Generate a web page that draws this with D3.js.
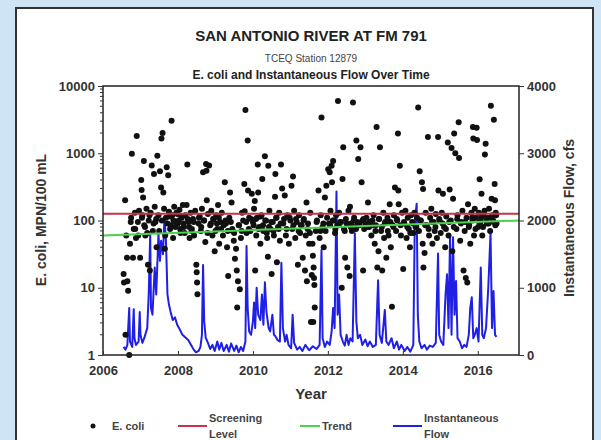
<!DOCTYPE html>
<html>
<head>
<meta charset="utf-8">
<script src="https://cdn.jsdelivr.net/npm/d3@7"></script>
<style>
  body { margin: 0; background: #cfe4f5; }
  svg { display: block; font-family: "Liberation Sans", Arial, sans-serif; }
</style>
</head>
<body>
<div id="chart"></div>
<script>

var width = 601,
    height = 440

// E. coli samples: [decimal year, MPN/100 mL]
var ecoli = [
  [2006.55,16],[2006.56,12],[2006.59,200],[2006.6,2],[2006.62,60],[2006.64,28],[2006.65,12.5],[2006.67,9],[2006.7,1],[2006.72,45],
  [2006.75,110],[2006.77,980],[2006.8,28],[2006.82,75],[2006.85,130],[2006.88,55],[2006.9,1800],[2006.93,95],[2006.96,140],[2006.99,28],
  [2007.02,400],[2007.03,283],[2007.05,120],[2007.07,220],[2007.09,770],[2007.1,85],[2007.13,60],[2007.16,150],[2007.2,22],[2007.22,100],
  [2007.25,18],[2007.27,130],[2007.3,660],[2007.33,70],[2007.36,490],[2007.38,160],[2007.4,95],[2007.43,40],[2007.45,920],[2007.48,120],
  [2007.52,540],[2007.55,310],[2007.56,1650],[2007.59,2000],[2007.61,260],[2007.63,150],[2007.65,38],[2007.68,110],[2007.7,620],[2007.72,90],
  [2007.74,470],[2007.76,135],[2007.79,75],[2007.83,3050],[2007.85,120],[2007.88,100],[2007.9,160],[2007.93,80],[2007.96,130],
  [2008.0,90],[2008.04,145],[2008.07,65],[2008.1,110],[2008.13,170],[2008.16,80],[2008.2,120],[2008.23,170],[2008.25,680],[2008.28,95],
  [2008.31,55],[2008.34,130],[2008.37,75],[2008.4,105],[2008.43,60],[2008.46,140],[2008.49,22],[2008.5,17],[2008.51,12],[2008.52,8],
  [2008.55,90],[2008.58,115],[2008.61,70],[2008.64,150],[2008.67,520],[2008.7,100],[2008.73,48],[2008.75,690],[2008.76,550],[2008.77,200],
  [2008.8,125],[2008.83,660],[2008.86,85],[2008.89,140],[2008.92,60],[2008.95,105],[2008.98,35],
  [2009.02,120],[2009.05,75],[2009.07,170],[2009.1,45],[2009.13,95],[2009.17,130],[2009.2,60],[2009.25,370],[2009.28,90],[2009.31,40],
  [2009.34,15],[2009.37,110],[2009.39,260],[2009.43,185],[2009.46,70],[2009.49,50],[2009.52,27],[2009.55,38],[2009.57,18],[2009.58,5.1],
  [2009.6,12.5],[2009.63,85],[2009.65,9.5],[2009.68,55],[2009.71,130],[2009.74,100],[2009.77,350],[2009.78,137],[2009.8,4400],[2009.83,65],
  [2009.86,1550],[2009.87,280],[2009.9,110],[2009.93,70],[2009.97,250],
  [2010.0,95],[2010.03,150],[2010.05,195],[2010.06,18],[2010.09,60],[2010.11,110],[2010.13,680],[2010.14,260],[2010.17,80],[2010.2,45],
  [2010.23,120],[2010.25,415],[2010.28,70],[2010.32,900],[2010.35,100],[2010.38,55],[2010.4,29],[2010.41,650],[2010.44,140],[2010.47,75],
  [2010.5,16],[2010.53,95],[2010.56,60],[2010.59,225],[2010.6,490],[2010.63,110],[2010.64,24],[2010.67,80],[2010.7,130],[2010.72,50],
  [2010.75,680],[2010.78,300],[2010.81,90],[2010.85,235],[2010.88,60],[2010.92,120],[2010.96,45],
  [2011.0,100],[2011.03,330],[2011.05,75],[2011.07,450],[2011.1,140],[2011.13,55],[2011.17,95],[2011.2,22],[2011.23,120],[2011.26,65],
  [2011.3,85],[2011.33,28],[2011.36,105],[2011.39,18],[2011.41,60],[2011.43,185],[2011.44,12.5],[2011.47,90],[2011.5,45],[2011.53,130],
  [2011.55,3.1],[2011.57,15.5],[2011.59,45],[2011.6,30],[2011.61,3.1],[2011.62,20],[2011.63,14],[2011.64,11],[2011.65,5.1],[2011.68,70],
  [2011.71,100],[2011.75,280],[2011.78,55],[2011.81,120],[2011.83,3400],[2011.86,80],[2011.89,40],[2011.92,220],[2011.96,330],[2011.98,110],
  [2012.01,580],[2012.03,90],[2012.05,520],[2012.07,140],[2012.1,650],[2012.11,370],[2012.14,770],[2012.16,100],[2012.19,65],[2012.22,120],
  [2012.25,85],[2012.27,6000],[2012.3,130],[2012.33,95],[2012.37,10],[2012.39,415],[2012.41,1230],[2012.43,75],[2012.46,28],[2012.48,105],
  [2012.52,20],[2012.55,140],[2012.58,15],[2012.59,160],[2012.62,90],[2012.64,70],[2012.67,5700],[2012.7,110],[2012.73,80],[2012.76,1550],
  [2012.78,95],[2012.81,820],[2012.84,85],[2012.87,1230],[2012.9,370],[2012.92,100],[2012.94,18],[2012.97,75],
  [2013.0,90],[2013.03,110],[2013.07,185],[2013.1,80],[2013.13,95],[2013.16,60],[2013.19,100],[2013.22,120],[2013.25,45],[2013.28,85],
  [2013.3,2450],[2013.32,20],[2013.35,35],[2013.37,105],[2013.39,1230],[2013.42,70],[2013.45,18],[2013.48,130],[2013.5,55],[2013.53,95],
  [2013.56,28],[2013.59,110],[2013.62,60],[2013.65,175],[2013.68,40],[2013.71,5.2],[2013.73,85],[2013.76,120],[2013.79,310],[2013.82,70],
  [2013.85,100],[2013.87,1960],[2013.88,280],[2013.89,175],[2013.92,650],[2013.95,60],[2013.98,130],
  [2014.01,19],[2014.04,90],[2014.07,140],[2014.1,55],[2014.13,110],[2014.16,75],[2014.19,40],[2014.22,120],[2014.25,95],[2014.28,65],
  [2014.31,130],[2014.34,80],[2014.38,110],[2014.41,4800],[2014.43,70],[2014.45,540],[2014.48,100],[2014.51,370],[2014.53,45],[2014.54,295],
  [2014.55,20],[2014.58,33],[2014.61,130],[2014.64,85],[2014.67,1750],[2014.7,60],[2014.73,110],[2014.76,150],[2014.79,45],[2014.82,95],
  [2014.85,70],[2014.88,125],[2014.91,55],[2014.94,1750],[2014.95,280],[2014.98,100],
  [2015.01,65],[2015.04,130],[2015.07,250],[2015.1,80],[2015.13,40],[2015.16,115],[2015.2,1450],[2015.22,60],[2015.25,290],[2015.28,100],
  [2015.3,1200],[2015.32,35],[2015.34,210],[2015.37,1960],[2015.4,1000],[2015.43,75],[2015.46,120],[2015.49,2900],[2015.5,850],[2015.53,50],
  [2015.56,95],[2015.59,140],[2015.62,18],[2015.65,70],[2015.68,14],[2015.7,110],[2015.72,12],[2015.74,175],[2015.77,85],[2015.8,45],
  [2015.83,130],[2015.86,100],[2015.87,2450],[2015.88,1650],[2015.9,60],[2015.92,150],[2015.95,110],[2015.97,2400],[2015.98,1570],
  [2016.01,80],[2016.03,130],[2016.05,410],[2016.07,95],[2016.1,250],[2016.12,60],[2016.15,120],[2016.18,140],[2016.19,960],[2016.21,1380],
  [2016.24,90],[2016.27,110],[2016.3,150],[2016.33,70],[2016.35,5100],[2016.37,210],[2016.39,120],[2016.41,100],[2016.43,3150],[2016.45,350],
  [2016.46,200],[2016.48,130],[2016.5,90],
  // the dense band between trend and screening level
  [2006.74,95],[2006.86,75],[2006.94,60],[2007.04,110],[2007.12,80],[2007.18,65],[2007.24,120],[2007.35,90],[2007.42,105],[2007.5,70],
  [2007.57,100],[2007.66,60],[2007.78,115],[2007.81,85],[2007.87,55],[2007.94,95],[2007.99,125],
  [2008.02,100],[2008.06,75],[2008.09,115],[2008.15,90],[2008.18,65],[2008.26,105],[2008.3,80],[2008.36,70],[2008.42,95],[2008.56,110],
  [2008.62,80],[2008.69,100],[2008.79,65],[2008.88,90],[2008.94,105],
  [2009.0,70],[2009.04,90],[2009.09,110],[2009.15,75],[2009.22,85],[2009.27,100],[2009.33,70],[2009.41,95],[2009.45,75],[2009.5,65],
  [2009.62,85],[2009.7,70],[2009.82,95],[2009.89,75],[2009.95,105],
  [2010.02,85],[2010.08,105],[2010.15,75],[2010.21,115],[2010.27,85],[2010.33,100],[2010.37,65],[2010.43,80],[2010.49,95],[2010.55,70],
  [2010.62,110],[2010.69,75],[2010.74,90],[2010.83,105],[2010.9,75],[2010.98,110],
  [2011.08,85],[2011.15,105],[2011.22,70],[2011.28,85],[2011.35,100],[2011.46,75],[2011.52,65],[2011.7,95],[2011.8,70],[2011.88,90],
  [2011.94,70],
  [2012.06,85],[2012.13,100],[2012.2,75],[2012.29,85],[2012.35,95],[2012.45,70],[2012.5,90],[2012.61,80],[2012.69,100],[2012.75,75],
  [2012.83,90],[2012.95,105],
  [2013.05,80],[2013.12,95],[2013.2,85],[2013.27,70],[2013.36,105],[2013.44,80],[2013.52,90],[2013.6,70],[2013.67,95],[2013.75,80],
  [2013.84,105],[2013.94,85],
  [2014.03,95],[2014.12,80],[2014.2,65],[2014.27,90],[2014.36,80],[2014.47,100],[2014.6,85],[2014.69,75],[2014.78,95],[2014.87,80],
  [2014.97,105],
  [2015.06,90],[2015.15,75],[2015.24,95],[2015.36,80],[2015.45,105],[2015.55,90],[2015.66,95],[2015.76,80],[2015.85,110],[2015.94,75],
  [2016.04,95],[2016.09,110],[2016.14,80],[2016.23,100],[2016.29,90],[2016.36,110],[2016.42,95],[2016.47,85],[2016.49,120]
]

// instantaneous flow: [decimal year, cfs]
var flow = [
  [2006.55,120],[2006.6,80],[2006.65,150],[2006.7,700],[2006.72,200],[2006.78,120],[2006.82,680],[2006.84,250],[2006.88,150],[2006.95,200],
  [2006.98,640],[2007.0,300],[2007.05,180],[2007.1,250],[2007.18,400],[2007.22,900],[2007.26,1800],[2007.28,700],[2007.32,600],[2007.38,1300],
  [2007.42,900],[2007.48,1800],[2007.52,1400],[2007.55,1700],[2007.6,1500],[2007.64,2050],[2007.68,1700],[2007.72,900],[2007.76,750],[2007.8,650],
  [2007.86,520],[2007.92,560],[2007.98,450],[2008.05,380],[2008.12,300],[2008.2,260],[2008.28,220],[2008.35,150],[2008.42,80],[2008.48,40],
  [2008.55,60],[2008.6,120],[2008.64,300],[2008.67,1340],[2008.7,500],[2008.74,260],[2008.8,180],[2008.86,90],[2008.92,150],[2008.98,60],
  [2009.05,200],[2009.1,80],[2009.16,180],[2009.22,60],[2009.3,150],[2009.36,50],[2009.42,170],[2009.5,60],[2009.56,140],[2009.62,40],
  [2009.68,120],[2009.74,60],[2009.8,200],[2009.83,1620],[2009.86,700],[2009.9,350],[2009.95,300],[2010.0,500],[2010.03,780],[2010.06,400],
  [2010.1,1000],[2010.14,600],[2010.2,520],[2010.24,900],[2010.28,450],[2010.32,1080],[2010.36,650],[2010.42,400],[2010.46,350],[2010.52,600],
  [2010.56,300],[2010.6,280],[2010.66,220],[2010.72,200],[2010.76,1370],[2010.8,400],[2010.86,200],[2010.9,300],[2010.95,150],[2011.02,100],
  [2011.06,600],[2011.1,180],[2011.18,80],[2011.25,120],[2011.32,60],[2011.4,150],[2011.5,70],[2011.6,130],[2011.7,90],[2011.78,150],
  [2011.83,1560],[2011.86,250],[2011.92,120],[2011.98,200],[2012.05,150],[2012.1,350],[2012.14,700],[2012.18,400],[2012.23,2430],[2012.26,600],
  [2012.3,900],[2012.34,300],[2012.4,200],[2012.45,140],[2012.5,300],[2012.55,150],[2012.6,250],[2012.66,200],[2012.72,1810],[2012.76,500],
  [2012.8,250],[2012.86,300],[2012.92,150],[2013.0,230],[2013.06,130],[2013.12,200],[2013.2,120],[2013.28,150],[2013.34,1110],[2013.38,300],
  [2013.44,180],[2013.52,670],[2013.56,200],[2013.62,150],[2013.7,250],[2013.76,100],[2013.84,200],[2013.9,80],[2013.96,150],[2014.05,60],
  [2014.12,120],[2014.2,50],[2014.28,150],[2014.32,2000],[2014.37,2250],[2014.4,600],[2014.44,200],[2014.5,100],[2014.58,150],[2014.64,80],
  [2014.72,140],[2014.8,120],[2014.88,180],[2014.94,1510],[2014.97,300],[2015.02,200],[2015.08,150],[2015.14,900],[2015.18,1200],[2015.22,400],
  [2015.26,1760],[2015.3,300],[2015.34,1750],[2015.38,600],[2015.42,1100],[2015.46,250],[2015.52,200],[2015.58,100],[2015.64,150],[2015.7,120],
  [2015.76,300],[2015.8,700],[2015.84,860],[2015.88,250],[2015.92,300],[2015.97,400],[2016.02,200],[2016.08,1300],[2016.12,300],[2016.16,250],
  [2016.22,400],[2016.28,1000],[2016.34,1810],[2016.38,400],[2016.42,950],[2016.46,300],[2016.5,270]
]

var screening = 126
var trendYears = [2006, 2017.1]
var trendValues = [60, 100]

var leftTicks = [1, 10, 100, 1000, 10000]
var rightTicks = [0, 1000, 2000, 3000, 4000]
var yearTicks = [2006, 2008, 2010, 2012, 2014, 2016]

var plot = {left: 103, right: 519, top: 86, bottom: 355}

var svg = d3.select("#chart")
  .append("svg")
    .attr("width", width)
    .attr("height", height)

// white panel
svg.append("rect")
  .attr("x", 16).attr("y", 8)
  .attr("width", 577).attr("height", 440)
  .attr("fill", "white")
  .attr("stroke", "#333")
  .attr("stroke-width", 2)

var x = d3.scaleLinear().domain([2006, 2017.1]).range([plot.left, plot.right])
var y = d3.scaleLog().domain([1, 10000]).range([plot.bottom, plot.top])
var y2 = d3.scaleLinear().domain([0, 4000]).range([plot.bottom, plot.top])

var g = svg.append("g")

// flow line
g.append("path")
  .datum(flow)
  .attr("fill", "none")
  .attr("stroke", "#1f1fe6")
  .attr("stroke-width", 2)
  .attr("stroke-linejoin", "round")
  .attr("d", d3.line().x(function(d) { return x(d[0]) }).y(function(d) { return y2(d[1]) }))

// e. coli points
g.selectAll("circle")
  .data(ecoli)
  .enter()
  .append("circle")
    .attr("cx", function(d) { return x(d[0]) })
    .attr("cy", function(d) { return y(d[1]) })
    .attr("r", 3)
    .attr("fill", "#111")

// screening level
g.append("line")
  .attr("x1", x(2006)).attr("x2", x(2017.1))
  .attr("y1", y(screening)).attr("y2", y(screening))
  .attr("stroke", "#c8324e").attr("stroke-width", 2)

// trend
g.append("line")
  .attr("x1", x(trendYears[0])).attr("x2", x(trendYears[1]))
  .attr("y1", y(trendValues[0])).attr("y2", y(trendValues[1]))
  .attr("stroke", "#4cd24c").attr("stroke-width", 2)

// frame
svg.append("rect")
  .attr("x", plot.left).attr("y", plot.top)
  .attr("width", plot.right - plot.left).attr("height", plot.bottom - plot.top)
  .attr("fill", "none").attr("stroke", "#222").attr("stroke-width", 1.5)

// axes
svg.append("g")
  .attr("transform", "translate(" + plot.left + ",0)")
  .call(d3.axisLeft(y).tickValues(leftTicks).tickFormat(d3.format("d")).tickSize(5).tickPadding(3))

var minor = []
leftTicks.slice(0, 4).forEach(function(t) {
  for (var k = 2; k < 10; k++) minor.push(t * k)
})
svg.append("g")
  .selectAll("line")
  .data(minor)
  .enter()
  .append("line")
    .attr("x1", plot.left - 3).attr("x2", plot.left)
    .attr("y1", function(d) { return y(d) }).attr("y2", function(d) { return y(d) })
    .attr("stroke", "#333")

svg.append("g")
  .attr("transform", "translate(" + plot.right + ",0)")
  .call(d3.axisRight(y2).tickValues(rightTicks).tickFormat(d3.format("d")).tickSize(5).tickPadding(3))

svg.append("g")
  .attr("transform", "translate(0," + plot.bottom + ")")
  .call(d3.axisBottom(x).tickValues(yearTicks).tickFormat(d3.format("d")).tickSize(-4).tickPadding(11))

svg.selectAll(".domain").remove()
svg.selectAll(".tick text")
  .attr("font-family", "Liberation Sans, Arial, sans-serif")
  .attr("font-size", 13)
  .attr("font-weight", "bold")
  .attr("fill", "#333")
svg.selectAll(".tick line").attr("stroke", "#333")

// titles
svg.append("text")
  .attr("x", 311).attr("y", 41)
  .attr("text-anchor", "middle")
  .attr("font-size", 15).attr("font-weight", "bold").attr("fill", "#222")
  .text("SAN ANTONIO RIVER AT FM 791")

svg.append("text")
  .attr("x", 311).attr("y", 62)
  .attr("text-anchor", "middle")
  .attr("font-size", 10).attr("fill", "#444")
  .text("TCEQ Station 12879")

svg.append("text")
  .attr("x", 311).attr("y", 79)
  .attr("text-anchor", "middle")
  .attr("font-size", 12).attr("font-weight", "bold").attr("fill", "#222")
  .text("E. coli and Instantaneous Flow Over Time")

svg.append("text")
  .attr("transform", "translate(46,220) rotate(-90)")
  .attr("text-anchor", "middle")
  .attr("font-size", 14).attr("font-weight", "bold").attr("fill", "#333")
  .text("E. coli, MPN/100 mL")

svg.append("text")
  .attr("transform", "translate(574,218) rotate(-90)")
  .attr("text-anchor", "middle")
  .attr("font-size", 14).attr("font-weight", "bold").attr("fill", "#333")
  .text("Instantaneous Flow, cfs")

svg.append("text")
  .attr("x", 311).attr("y", 399)
  .attr("text-anchor", "middle")
  .attr("font-size", 15).attr("font-weight", "bold").attr("fill", "#333")
  .text("Year")

// legend
var lg = svg.append("g")
  .attr("font-size", 11).attr("font-weight", "bold").attr("fill", "#444")

lg.append("circle").attr("cx", 93).attr("cy", 426).attr("r", 2.5).attr("fill", "#111")
lg.append("text").attr("x", 112).attr("y", 430).text("E. coli")

lg.append("line").attr("x1", 178).attr("x2", 207).attr("y1", 426).attr("y2", 426)
  .attr("stroke", "#c8324e").attr("stroke-width", 2)
lg.append("text").attr("x", 209).attr("y", 422).text("Screening")
lg.append("text").attr("x", 209).attr("y", 438).text("Level")

lg.append("line").attr("x1", 300).attr("x2", 320).attr("y1", 426).attr("y2", 426)
  .attr("stroke", "#4cd24c").attr("stroke-width", 2)
lg.append("text").attr("x", 322).attr("y", 430).text("Trend")

lg.append("line").attr("x1", 393).attr("x2", 422).attr("y1", 426).attr("y2", 426)
  .attr("stroke", "#1f1fe6").attr("stroke-width", 2)
lg.append("text").attr("x", 424).attr("y", 422).text("Instantaneous")
lg.append("text").attr("x", 424).attr("y", 438).text("Flow")

</script>
</body>
</html>
